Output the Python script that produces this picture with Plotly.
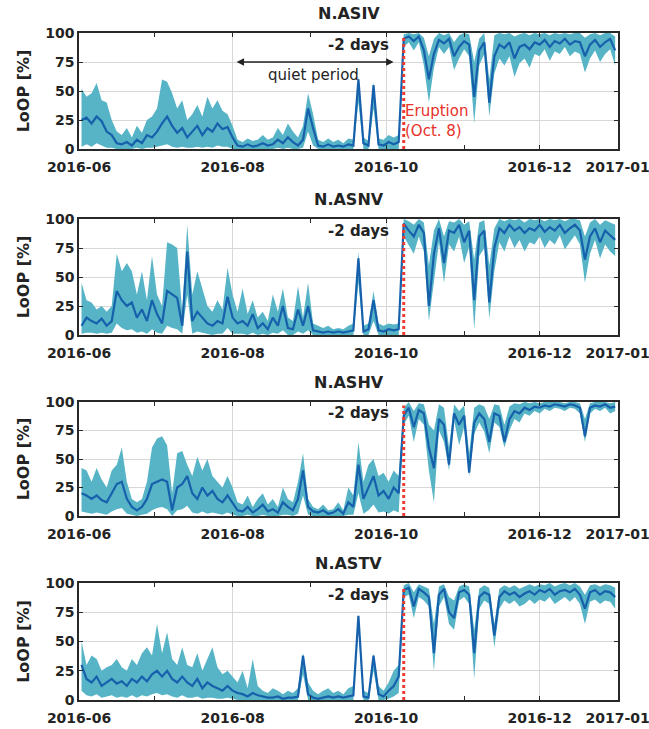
import pandas as pd
import plotly.graph_objects as go
from plotly.subplots import make_subplots

# ---------------- data (2-day sampling, 2016-06-02 .. 2016-12-31) ----------------
dates = pd.date_range("2016-06-02", periods=107, freq="2D")

stations = ["N.ASIV", "N.ASNV", "N.ASHV", "N.ASTV"]

asiv_median = [25, 27, 22, 28, 24, 15, 12, 5, 4, 6,
               3, 8, 5, 12, 10, 15, 22, 28, 20, 14,
               18, 10, 15, 20, 12, 18, 15, 22, 17, 19,
               10, 3, 2, 4, 2, 3, 5, 3, 4, 8,
               5, 10, 6, 3, 8, 35, 18, 3, 2, 4,
               2, 3, 2, 4, 3, 60, 5, 3, 55, 4,
               3, 6, 4, 6, 95, 97, 93, 97, 85, 60,
               82, 94, 91, 95, 80, 88, 93, 90, 45, 85,
               92, 40, 80, 90, 87, 92, 78, 88, 90, 86,
               92, 90, 94, 88, 93, 91, 95, 90, 93, 92,
               80, 90, 94, 88, 92, 95, 85]
asiv_upper = [52, 45, 48, 57, 42, 40, 25, 15, 12, 18,
              10, 20, 14, 25, 28, 35, 60, 58, 48, 35,
              42, 25, 30, 38, 28, 45, 35, 42, 33, 30,
              20, 8, 6, 9, 7, 8, 12, 8, 10, 18,
              12, 22, 15, 10, 20, 48, 30, 8, 6, 9,
              6, 8, 5, 9, 8, 62, 10, 7, 58, 9,
              8, 12, 10, 12, 99, 100, 99, 100, 96, 80,
              95, 100, 98, 100, 92, 98, 100, 99, 75, 95,
              100, 60, 98, 100, 99, 100, 97, 99, 100, 98,
              100, 99, 100, 98, 100, 99, 100, 99, 100, 100,
              96, 99, 100, 98, 100, 100, 97]
asiv_lower = [2, 4, 2, 5, 3, 1, 1, 0, 0, 0,
              0, 1, 0, 1, 1, 2, 3, 4, 2, 1,
              2, 1, 1, 2, 1, 2, 1, 3, 2, 2,
              0, 0, 0, 0, 0, 0, 0, 0, 0, 1,
              0, 1, 0, 0, 1, 15, 3, 0, 0, 0,
              0, 0, 0, 0, 0, 40, 0, 0, 35, 0,
              0, 0, 0, 0, 88, 92, 85, 92, 72, 40,
              70, 88, 82, 88, 68, 78, 86, 80, 22, 72,
              82, 28, 65, 78, 72, 80, 62, 74, 78, 70,
              82, 80, 86, 76, 84, 82, 88, 80, 84, 82,
              66, 78, 85, 75, 82, 86, 72]

asnv_median = [8, 15, 12, 10, 14, 8, 12, 38, 30, 25,
               28, 15, 22, 12, 30, 18, 10, 38, 35, 32,
               8, 72, 12, 20, 15, 10, 8, 12, 10, 33,
               15, 10, 12, 8, 18, 6, 10, 5, 15, 8,
               25, 6, 5, 22, 8, 25, 4, 3, 2, 3,
               2, 3, 2, 3, 4, 66, 3, 5, 30, 4,
               3, 5, 4, 5, 96, 90, 85, 95, 88, 25,
               70, 92, 62, 90, 88, 95, 80, 90, 30, 85,
               90, 28, 75, 92, 88, 95, 90, 93, 88, 92,
               90, 95, 89, 93, 90, 95, 88, 92, 95, 90,
               65, 85, 92, 80, 90, 86, 82]
asnv_upper = [45, 30, 28, 22, 25, 20, 25, 70, 55, 62,
              55, 35, 55, 30, 68, 35, 25, 80, 78, 75,
              20, 95, 35, 55, 40, 25, 20, 30, 22, 58,
              35, 20, 40, 18, 30, 15, 20, 12, 35, 20,
              40, 15, 12, 42, 15, 45, 10, 8, 6, 8,
              5, 6, 5, 8, 10, 72, 8, 10, 38, 10,
              8, 10, 9, 10, 100, 98, 95, 100, 97, 60,
              90, 100, 85, 98, 97, 100, 95, 98, 65, 97,
              99, 60, 92, 100, 98, 100, 99, 100, 97, 100,
              99, 100, 98, 100, 99, 100, 98, 100, 100, 99,
              85, 97, 100, 95, 99, 97, 95]
asnv_lower = [1, 2, 2, 1, 2, 1, 2, 10, 6, 4,
              5, 2, 3, 1, 5, 2, 1, 8, 6, 5,
              1, 35, 1, 3, 2, 1, 0, 1, 1, 6,
              1, 1, 1, 0, 2, 0, 1, 0, 2, 1,
              4, 0, 0, 3, 1, 4, 0, 0, 0, 0,
              0, 0, 0, 0, 0, 45, 0, 0, 12, 0,
              0, 0, 0, 0, 85, 78, 70, 85, 72, 12,
              45, 80, 45, 78, 72, 85, 62, 76, 5, 68,
              75, 14, 55, 80, 72, 85, 75, 82, 72, 80,
              78, 85, 75, 82, 78, 86, 74, 80, 86, 78,
              45, 70, 82, 66, 78, 72, 68]

ashv_median = [20, 18, 15, 18, 14, 12, 20, 28, 30, 15,
               8, 5, 8, 15, 28, 30, 32, 30, 5, 25,
               28, 35, 20, 15, 25, 18, 22, 15, 12, 18,
               12, 5, 4, 8, 3, 6, 10, 4, 6, 3,
               12, 8, 5, 15, 40, 8, 4, 3, 5, 2,
               3, 6, 2, 12, 8, 45, 15, 25, 35, 18,
               22, 15, 25, 20, 88, 95, 78, 93, 90, 60,
               42, 85, 80, 45, 90, 80, 88, 38, 82, 90,
               85, 65, 90, 88, 65, 85, 92, 90, 95, 93,
               96, 95, 97, 96, 98, 97, 96, 98, 97, 95,
               70, 95, 97, 96, 98, 95, 96]
ashv_upper = [42, 40, 30, 42, 32, 25, 40, 45, 60, 30,
              15, 12, 15, 30, 60, 68, 70, 62, 20, 55,
              57, 45, 35, 52, 40, 50, 35, 30, 25, 35,
              25, 12, 10, 18, 8, 15, 20, 10, 15, 8,
              25, 15, 12, 30, 55, 15, 8, 6, 10, 5,
              6, 12, 5, 25, 18, 65, 30, 45, 50, 35,
              38, 30, 40, 35, 95, 100, 92, 99, 98, 80,
              75, 98, 95, 60, 98, 92, 97, 55, 95, 98,
              96, 85, 98, 97, 80, 96, 99, 98, 100, 99,
              100, 99, 100, 100, 100, 100, 99, 100, 100, 99,
              85, 99, 100, 100, 100, 99, 100]
ashv_lower = [4, 3, 2, 3, 2, 1, 4, 6, 7, 2,
              1, 0, 1, 2, 5, 7, 8, 6, 0, 5,
              6, 9, 3, 2, 4, 2, 3, 2, 1, 3,
              1, 0, 0, 1, 0, 0, 1, 0, 0, 0,
              1, 1, 0, 2, 18, 1, 0, 0, 0, 0,
              0, 0, 0, 1, 1, 20, 2, 5, 10, 3,
              4, 2, 5, 3, 80, 88, 65, 85, 80, 40,
              12, 75, 65, 40, 84, 62, 78, 35, 72, 82,
              74, 55, 82, 78, 60, 75, 85, 82, 90, 88,
              92, 90, 94, 92, 95, 94, 92, 95, 94, 90,
              65, 90, 94, 92, 95, 90, 92]

astv_median = [30, 18, 15, 20, 12, 15, 18, 14, 16, 12,
               18, 15, 20, 16, 22, 25, 20, 25, 18, 15,
               20, 15, 12, 18, 10, 15, 12, 10, 8, 12,
               8, 6, 5, 3, 6, 4, 3, 2, 2, 3,
               1, 2, 2, 3, 38, 5, 2, 1, 2, 3,
               2, 3, 2, 3, 4, 72, 3, 2, 38, 5,
               3, 8, 12, 20, 94, 96, 80, 95, 92, 88,
               40, 90, 95, 75, 70, 92, 94, 90, 40, 88,
               92, 90, 55, 88, 93, 90, 92, 88, 91, 93,
               90, 94, 92, 95, 90, 93, 94, 92, 95, 90,
               78, 92, 94, 90, 93, 92, 88]
astv_upper = [50, 30, 38, 35, 25, 28, 30, 35, 28, 25,
              35, 30, 40, 45, 38, 65, 40, 58, 35, 30,
              45, 30, 28, 40, 25, 35, 45, 28, 22, 25,
              20, 15, 25, 10, 35, 12, 8, 6, 10, 8,
              5, 8, 6, 10, 40, 15, 8, 5, 8, 10,
              6, 8, 5, 10, 12, 73, 8, 6, 40, 12,
              8, 15, 25, 30, 98, 100, 92, 99, 97, 95,
              65, 97, 99, 88, 85, 97, 99, 97, 60, 95,
              98, 96, 65, 95, 98, 96, 98, 95, 97, 99,
              97, 99, 98, 100, 97, 99, 100, 98, 100, 97,
              90, 98, 99, 97, 99, 98, 96]
astv_lower = [8, 4, 3, 5, 2, 3, 4, 2, 3, 2,
              4, 2, 4, 3, 5, 6, 4, 5, 3, 2,
              4, 2, 2, 3, 1, 2, 2, 1, 1, 2,
              1, 0, 0, 0, 0, 0, 0, 0, 0, 0,
              0, 0, 0, 0, 22, 0, 0, 0, 0, 0,
              0, 0, 0, 0, 0, 60, 0, 0, 25, 0,
              0, 1, 3, 6, 88, 90, 70, 88, 85, 80,
              25, 80, 88, 65, 60, 85, 88, 82, 18, 78,
              85, 82, 45, 78, 85, 82, 85, 80, 82, 86,
              82, 86, 84, 88, 82, 85, 88, 84, 88, 82,
              65, 84, 86, 82, 85, 84, 78]

medians = [asiv_median, asnv_median, ashv_median, astv_median]
uppers = [asiv_upper, asnv_upper, ashv_upper, astv_upper]
lowers = [asiv_lower, asnv_lower, ashv_lower, astv_lower]

tick_dates = ["2016-06-01", "2016-08-01", "2016-10-01", "2016-12-01", "2017-01-01"]
tick_labels = ["2016-06", "2016-08", "2016-10", "2016-12", "2017-01"]
minor_dates = ["2016-07-01", "2016-09-01", "2016-11-01"]
y_ticks = [0, 25, 50, 75, 100]

eruption_date = "2016-10-08"
label_date = "2016-10-03"
quiet_start = "2016-08-02"
quiet_end = "2016-10-04"

# ---------------- figure ----------------
W, H = 649, 729
FONT = "DejaVu Sans"
TXT = "rgb(35,35,35)"
FILL = "rgb(86,180,198)"
LINE = "rgb(22,96,172)"

# panel pixel extents (top, bottom)
panels_px = [(33, 149), (219, 335), (402, 516), (583, 700)]

fig = make_subplots(rows=4, cols=1)

for i in range(4):
    r = i + 1
    fig.add_trace(go.Scatter(x=dates, y=uppers[i], mode="lines", line=dict(width=0, color=FILL),
                             showlegend=False, hoverinfo="skip"), row=r, col=1)
    fig.add_trace(go.Scatter(x=dates, y=lowers[i], mode="lines", line=dict(width=0, color=FILL),
                             fill="tonexty", fillcolor=FILL, showlegend=False, hoverinfo="skip"),
                  row=r, col=1)
    fig.add_trace(go.Scatter(x=dates, y=medians[i], mode="lines", line=dict(width=2.2, color=LINE),
                             showlegend=False), row=r, col=1)

    top, bot = panels_px[i]
    dom = [(H - bot) / H, (H - top) / H]
    xa = "xaxis" if i == 0 else f"xaxis{r}"
    ya = "yaxis" if i == 0 else f"yaxis{r}"
    fig.layout[ya].update(domain=dom, range=[0, 100], tickvals=y_ticks,
                          showgrid=True, gridcolor="rgb(215,215,215)", gridwidth=1,
                          zeroline=False, showline=True, linecolor="rgb(40,40,40)", linewidth=1.5,
                          mirror="ticks", ticks="inside", ticklen=4, tickcolor="rgb(40,40,40)",
                          tickfont=dict(family=FONT, size=14, color=TXT, weight="bold"),
                          title=dict(text="LoOP [%]", font=dict(family=FONT, size=16, color=TXT, weight="bold"),
                                     standoff=12),
                          automargin=False)
    fig.layout[xa].update(domain=[0, 1], range=["2016-06-01", "2017-01-01 03:00"], type="date",
                          tickvals=tick_dates, ticktext=tick_labels,
                          showgrid=True, gridcolor="rgb(215,215,215)", gridwidth=1,
                          zeroline=False, showline=True, linecolor="rgb(40,40,40)", linewidth=1.5,
                          mirror="ticks", ticks="inside", ticklen=4, tickcolor="rgb(40,40,40)",
                          minor=dict(tickvals=minor_dates, ticks="inside", ticklen=4,
                                     tickcolor="rgb(40,40,40)", showgrid=False),
                          tickfont=dict(family=FONT, size=14, color=TXT, weight="bold"),
                          ticklabelstandoff=4, ticklabeloverflow="allow",
                          automargin=False)

    xref = "x" if i == 0 else f"x{r}"
    yref = "y" if i == 0 else f"y{r}"
    # eruption red dotted line
    fig.add_shape(type="line", xref=xref, yref=yref, x0=eruption_date, x1=eruption_date, y0=0, y1=97,
                  line=dict(color="rgb(235,60,50)", width=3, dash="dot"), layer="above")
    fig.add_annotation(x=label_date, y=90, xref=xref, yref=yref, text="-2 days", showarrow=False,
                       xanchor="right", yanchor="middle",
                       font=dict(family=FONT, size=15, color=TXT, weight="bold"))
    # panel title
    fig.add_annotation(x=0.5, y=dom[1], xref="paper", yref="paper", text=stations[i], showarrow=False,
                       xanchor="center", yanchor="bottom", yshift=8,
                       font=dict(family=FONT, size=16, color=TXT, weight="bold"))

# quiet period arrow and text (first panel)
fig.add_annotation(x=quiet_end, y=75, ax=quiet_start, ay=75, xref="x", yref="y", axref="x", ayref="y",
                   text="", showarrow=True, arrowhead=2, arrowside="end+start", arrowsize=1,
                   arrowwidth=1.5, arrowcolor=TXT)
fig.add_annotation(x="2016-09-02", y=64, xref="x", yref="y", text="quiet period", showarrow=False,
                   font=dict(family=FONT, size=15, color=TXT))
fig.add_annotation(x=eruption_date, y=24, xref="x", yref="y", text="Eruption<br>(Oct. 8)", showarrow=False,
                   xanchor="left", yanchor="middle", align="left", xshift=-1,
                   font=dict(family=FONT, size=15, color="rgb(232,48,40)"))

fig.update_layout(width=W, height=H, margin=dict(l=79, r=31, t=0, b=0),
                  paper_bgcolor="white", plot_bgcolor="white", showlegend=False)

fig.write_html("out.html", config={"displayModeBar": False},
               post_script="document.body.style.margin='0px';")
